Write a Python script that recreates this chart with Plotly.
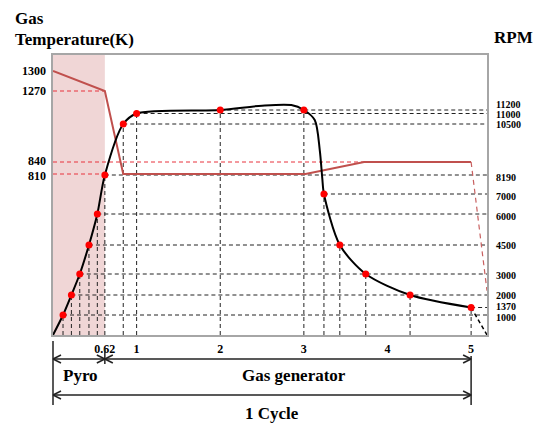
import numpy as np
import plotly.graph_objects as go

# ---------------- data ----------------
time_ticks = [0.62, 1, 2, 3, 4, 5]
time_tick_text = ["0.62", "1", "2", "3", "4", "5"]

# black RPM curve
rpm_curve_t = [0, 0.12, 0.22, 0.32, 0.43, 0.53, 0.62, 0.84, 1.0, 2.0, 2.5, 2.85,
               3.0, 3.13, 3.19, 3.22, 3.24, 3.43, 3.74, 4.27, 5.0]
rpm_curve = [0, 1000, 2000, 3000, 4500, 6000, 8190, 10500, 11000, 11200, 11450, 11480,
             11200, 10690, 9320, 8000, 7000, 4500, 3000, 2000, 1370]

# marked (red) points on the RPM curve
pt_t = [0.12, 0.22, 0.32, 0.43, 0.53, 0.62, 0.84, 1.0, 2.0, 3.0, 3.24, 3.43, 3.74, 4.27, 5.0]
pt_rpm = [1000, 2000, 3000, 4500, 6000, 8190, 10500, 11000, 11200, 11200, 7000, 4500, 3000, 2000, 1370]

# RPM shutdown tail (dashed)
rpm_tail_t = [5.0, 5.19]
rpm_tail = [1370, 0]

# gas temperature line
temp_t = [0, 0.62, 0.84, 3.02, 3.72, 5.0]
temp_K = [1300, 1270, 810, 810, 840, 840]
temp_tail_t = [5.0, 5.19]
temp_tail_K = [840, 440]

temp_levels = [1300, 1270, 840, 810]
rpm_levels = [11200, 11000, 10500, 8190, 7000, 6000, 4500, 3000, 2000, 1370, 1000]

# schematic (non-linear) vertical scale: value -> drawing height
rpm_scale_v = [0, 1000, 1370, 2000, 3000, 4500, 6000, 7000, 8190, 10500, 11000, 11200, 12000]
rpm_scale_h = [0, 20, 27.5, 40, 61, 90, 121, 141, 160, 211, 221.5, 225, 239]
temp_scale_v = [300, 810, 840, 1270, 1300]
temp_scale_h = [0, 161, 173, 244, 264]
# heights of the axis labels (spread so they do not collide)
temp_label_h = [264, 244, 174, 159]
rpm_label_h = [231, 221, 211, 158, 139, 119, 90, 60, 40, 29, 18]

# ---------------- helpers ----------------
XMAX = 5.19
YMAX = 280
FONT = "Liberation Serif"


def h_rpm(v):
    return np.interp(v, rpm_scale_v, rpm_scale_h)


def h_temp(v):
    return np.interp(v, temp_scale_v, temp_scale_h)


L, R, T, B = 53, 49, 55, 92
W, H = 536, 427
PW, PH = W - L - R, H - T - B


def xp(t):
    return t / XMAX


def ypix(py):  # pixel y in the page -> paper y
    return (T + PH - py) / PH


def dx(px):
    return px / PW


def dy(px):
    return px / PH


fig = go.Figure()
shapes = []
BLACK_DASH = dict(color="#222222", width=1, dash="4px,3px")
RED_DASH = dict(color="#e8323c", width=1, dash="4px,3px")

# pyro shaded band
shapes.append(dict(type="rect", xref="x", yref="paper", x0=0, x1=0.62, y0=0, y1=1,
                   fillcolor="#f0d6d6", line=dict(width=0), layer="below"))

# dashed guides from points
pt_h = h_rpm(pt_rpm)
for t, hh in zip(pt_t, pt_h):
    shapes.append(dict(type="line", xref="x", yref="y", x0=t, x1=t, y0=0, y1=hh,
                       line=BLACK_DASH, layer="below"))
for lev in rpm_levels:
    ts = [t for t, r in zip(pt_t, pt_rpm) if r == lev]
    if ts:
        hh = float(h_rpm(lev))
        shapes.append(dict(type="line", xref="x", yref="y", x0=min(ts), x1=XMAX,
                           y0=hh, y1=hh, line=BLACK_DASH, layer="below"))

# red dashed temperature guides
red_guides = [(1270, 0.62), (840, 3.72), (810, 0.62)]
for lev, tend in red_guides:
    hh = float(h_temp(lev))
    shapes.append(dict(type="line", xref="x", yref="y", x0=0, x1=tend, y0=hh, y1=hh,
                       line=RED_DASH, layer="below"))

# temperature line
fig.add_trace(go.Scatter(x=temp_t, y=h_temp(temp_K), mode="lines",
                         line=dict(color="#c0504d", width=2), hoverinfo="skip"))
fig.add_trace(go.Scatter(x=temp_tail_t, y=h_temp(temp_tail_K), mode="lines",
                         line=dict(color="#c86060", width=1.2, dash="5px,4px"), hoverinfo="skip"))

# RPM curve
fig.add_trace(go.Scatter(x=rpm_curve_t, y=h_rpm(rpm_curve), mode="lines",
                         line=dict(color="black", width=2, shape="spline", smoothing=0.8),
                         hoverinfo="skip"))
fig.add_trace(go.Scatter(x=rpm_tail_t, y=h_rpm(rpm_tail), mode="lines",
                         line=dict(color="black", width=1.5, dash="4px,3px"), hoverinfo="skip"))
fig.add_trace(go.Scatter(x=pt_t, y=pt_h, mode="markers",
                         marker=dict(color="#ff0000", size=7), hoverinfo="skip"))

# ---------------- bottom arrows ----------------
AK = dict(color="#222222", width=1.5)


def pline(x0, y0, x1, y1):
    shapes.append(dict(type="line", xref="paper", yref="paper",
                       x0=x0, y0=y0, x1=x1, y1=y1, line=AK))


def chevron(x, y, direction):
    pline(x, y, x - direction * dx(8), y + dy(4))
    pline(x, y, x - direction * dx(8), y - dy(4))


yA, yC = ypix(359), ypix(395)
pline(xp(0), ypix(341), xp(0), ypix(405))
pline(xp(5), ypix(356), xp(5), ypix(405))
pline(xp(0.62), ypix(348), xp(0.62), ypix(364))
pline(xp(0), yA, xp(5), yA)
pline(xp(0), yC, xp(5), yC)
chevron(xp(0), yA, -1)
chevron(xp(0.62), yA, 1)
chevron(xp(0.62), yA, -1)
chevron(xp(5), yA, 1)
chevron(xp(0), yC, -1)
chevron(xp(5), yC, 1)

annotations = []


def text(s, x, y, size, xanchor="center", xref="paper", yref="paper"):
    annotations.append(dict(text=s, x=x, y=y, xref=xref, yref=yref, showarrow=False,
                            xanchor=xanchor, yanchor="middle",
                            font=dict(family=FONT, size=size, color="black", weight="bold")))


text("Pyro", dx(80 - L), ypix(375), 17)
text("Gas generator", dx(294 - L), ypix(375), 17)
text("1 Cycle", dx(272 - L), ypix(414), 17)
text("Gas", dx(13 - L), ypix(18), 17, xanchor="left")
text("Temperature(K)", dx(13 - L), ypix(40), 17, xanchor="left")
text("RPM", dx(492 - L), ypix(37), 17, xanchor="left")

for lev, hh in zip(rpm_levels, rpm_label_h):
    annotations.append(dict(text=str(lev), x=1, xref="paper", y=hh, yref="y",
                            xshift=7, showarrow=False, xanchor="left", yanchor="middle",
                            font=dict(family=FONT, size=10, color="black", weight="bold")))
for lev, hh in zip(temp_levels, temp_label_h):
    annotations.append(dict(text=str(lev), x=0, xref="paper", y=hh, yref="y",
                            xshift=-5, showarrow=False, xanchor="right", yanchor="middle",
                            font=dict(family=FONT, size=12, color="black", weight="bold")))

fig.update_layout(
    width=W, height=H,
    margin=dict(l=L, r=R, t=T, b=B, pad=0),
    paper_bgcolor="white", plot_bgcolor="white",
    showlegend=False,
    shapes=shapes,
    annotations=annotations,
    xaxis=dict(range=[0, XMAX], showgrid=False, zeroline=False, showline=True,
               mirror=True, linecolor="#a6a6a6", linewidth=1.5, ticks="",
               tickvals=time_ticks, ticktext=time_tick_text, ticklabelstandoff=2,
               tickfont=dict(family=FONT, size=12, color="black", weight="bold")),
    yaxis=dict(range=[0, YMAX], showgrid=False, zeroline=False, showline=True,
               mirror=True, linecolor="#a6a6a6", linewidth=1.5, ticks="",
               showticklabels=False),
)

fig.write_html("out.html")
